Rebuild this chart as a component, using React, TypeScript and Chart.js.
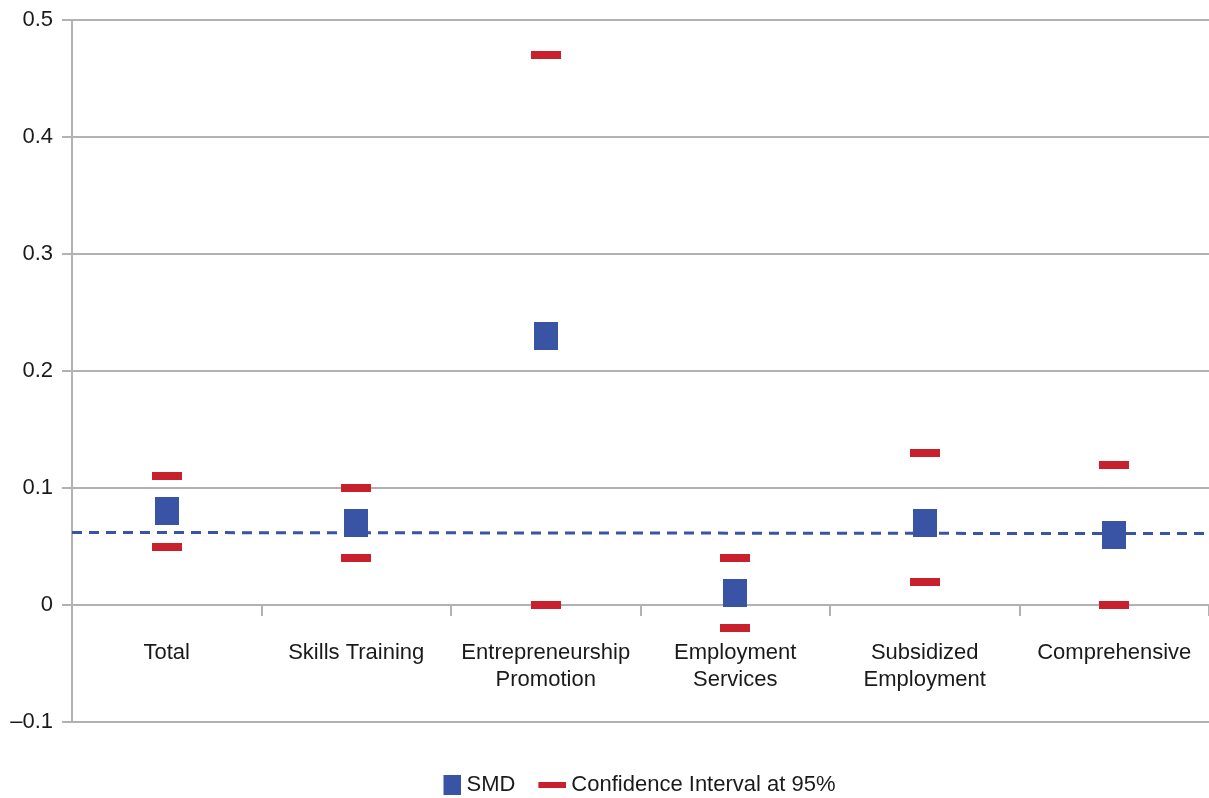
import React, { useEffect, useRef } from 'react';
import { Chart, registerables } from 'chart.js';

Chart.register(...registerables);

const categories = [
  'Total',
  'Skills Training',
  'Entrepreneurship Promotion',
  'Employment Services',
  'Subsidized Employment',
  'Comprehensive',
];
const categoryTickLines = [
  ['Total'],
  ['Skills Training'],
  ['Entrepreneurship', 'Promotion'],
  ['Employment', 'Services'],
  ['Subsidized', 'Employment'],
  ['Comprehensive'],
];
const smdValues = [0.08, 0.07, 0.23, 0.01, 0.07, 0.06];
const ciUpper = [0.11, 0.1, 0.47, 0.04, 0.13, 0.12];
const ciLower = [0.05, 0.04, 0.0, -0.02, 0.02, 0.0];
const trendX = [0, 6];
const trendY = [0.062, 0.061];
const yMin = -0.1;
const yMax = 0.5;
const yStep = 0.1;

const BLUE = '#3a54a5';
const RED = '#c9202e';
const GRID = '#b2b2b2';
const FONT = "'Liberation Sans', Arial, Helvetica, sans-serif";

function makeMarker(cw: number, ch: number, x: number, y: number, w: number, h: number, color: string) {
  const c = document.createElement('canvas');
  c.width = cw;
  c.height = ch;
  const ctx = c.getContext('2d')!;
  ctx.fillStyle = color;
  ctx.fillRect(x, y, w, h);
  return c;
}

function formatY(v: number) {
  const r = Math.round(v * 10) / 10;
  if (r === 0) return '0';
  if (r < 0) return '\u2013' + Math.abs(r).toString();
  return r.toString();
}

const legendShift = {
  id: 'legendShift',
  afterLayout(chart: any) {
    if (chart.legend) {
      chart.legend.left -= 9;
      chart.legend.right -= 9;
    }
  },
};

export default function App() {
  const ref = useRef<HTMLCanvasElement | null>(null);

  useEffect(() => {
    if (!ref.current) return;
    const smdImg = makeMarker(24, 28, 0, 0, 24, 28, BLUE);
    const ciImg = makeMarker(30, 8, 0, 0, 30, 8, RED);
    const smdLegend = makeMarker(40, 20, 22, 0, 18, 20, BLUE);
    const ciLegend = makeMarker(40, 6, 12, 0, 28, 6, RED);

    const chart = new Chart(ref.current, {
      type: 'line',
      plugins: [legendShift],
      data: {
        labels: categories,
        datasets: [
          {
            label: 'SMD',
            data: smdValues,
            showLine: false,
            pointStyle: smdImg as any,
            pointRadius: 14,
            pointHoverRadius: 14,
            borderWidth: 0,
            backgroundColor: BLUE,
            borderColor: BLUE,
          },
          {
            label: 'Confidence Interval at 95%',
            data: ciUpper,
            showLine: false,
            pointStyle: ciImg as any,
            pointRadius: 15,
            pointHoverRadius: 15,
            borderWidth: 0,
            backgroundColor: RED,
            borderColor: RED,
          },
          {
            label: 'CI lower',
            data: ciLower,
            showLine: false,
            pointStyle: ciImg as any,
            pointRadius: 15,
            pointHoverRadius: 15,
            borderWidth: 0,
            backgroundColor: RED,
            borderColor: RED,
          },
          {
            label: 'Trend',
            data: trendX.map((x, i) => ({ x, y: trendY[i] })) as any,
            xAxisID: 'x2',
            borderColor: BLUE,
            borderWidth: 3,
            borderDash: [10, 7],
            pointRadius: 0,
            pointHoverRadius: 0,
            tension: 0,
            fill: false,
          },
        ],
      },
      options: {
        animation: false,
        responsive: true,
        maintainAspectRatio: false,
        layout: { autoPadding: false, padding: { top: 7, left: 0, right: -3, bottom: -8 } },
        plugins: {
          tooltip: { enabled: false },
          legend: {
            display: true,
            position: 'bottom',
            fullSize: false,
            labels: {
              usePointStyle: true,
              pointStyleWidth: 28,
              boxHeight: 22,
              padding: 17,
              color: '#1a1a1a',
              font: { family: FONT, size: 22 },
              generateLabels: () => [
                {
                  text: 'SMD',
                  pointStyle: smdLegend as any,
                  fillStyle: BLUE,
                  strokeStyle: BLUE,
                  lineWidth: 0,
                  hidden: false,
                  datasetIndex: 0,
                  fontColor: '#1a1a1a',
                },
                {
                  text: 'Confidence Interval at 95%',
                  pointStyle: ciLegend as any,
                  fillStyle: RED,
                  strokeStyle: RED,
                  lineWidth: 0,
                  hidden: false,
                  datasetIndex: 1,
                  fontColor: '#1a1a1a',
                },
              ],
            },
          },
        },
        scales: {
          x: {
            type: 'category',
            position: { y: 0 } as any,
            offset: true,
            grid: {
              display: true,
              offset: true,
              drawOnChartArea: false,
              drawTicks: true,
              tickLength: 10,
              color: GRID,
              lineWidth: 2,
            },
            border: { display: true, color: GRID, width: 2 },
            ticks: {
              color: '#1a1a1a',
              padding: 25,
              maxRotation: 0,
              autoSkip: false,
              font: { family: FONT, size: 22, lineHeight: 1.22 },
              callback: (_v: any, i: number) => categoryTickLines[i],
            },
            afterFit: (scale: any) => {
              scale.paddingLeft = 0;
              scale.paddingRight = -3;
            },
          },
          x2: {
            type: 'linear',
            position: 'bottom',
            display: true,
            min: trendX[0],
            max: trendX[1],
            grid: { display: false, drawTicks: false },
            border: { display: false },
            ticks: { display: false },
            afterFit: (scale: any) => {
              scale.height = 35;
              scale.paddingLeft = 0;
              scale.paddingRight = -3;
            },
          },
          y: {
            type: 'linear',
            min: yMin,
            max: yMax,
            grid: {
              color: GRID,
              lineWidth: 2,
              drawTicks: true,
              tickLength: 10,
            },
            border: { display: true, color: GRID, width: 2 },
            ticks: {
              stepSize: yStep,
              color: '#1a1a1a',
              padding: 9,
              font: { family: FONT, size: 22 },
              callback: (v: any) => formatY(Number(v)),
            },
            afterFit: (scale: any) => {
              scale.width = 72;
              scale.paddingLeft = 0;
              scale.paddingRight = -3;
              scale.paddingTop = 20;
            },
          },
        },
      },
    });
    return () => chart.destroy();
  }, []);

  return (
    <div style={{ position: 'fixed', left: 0, top: 0, width: 1209, height: 798, background: '#fff' }}>
      <canvas ref={ref} />
    </div>
  );
}
